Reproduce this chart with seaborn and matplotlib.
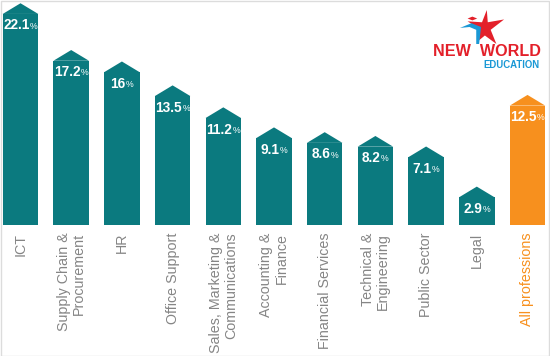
import matplotlib
matplotlib.use("Agg")
import matplotlib.pyplot as plt
import seaborn as sns
import pandas as pd
from matplotlib.patches import Polygon, Rectangle

categories = ["ICT", "Supply Chain &\nProcurement", "HR", "Office Support",
              "Sales, Marketing &\nCommunications", "Accounting &\nFinance",
              "Financial Services", "Technical &\nEngineering", "Public Sector",
              "Legal", "All professions"]
values = [22.1, 17.2, 16, 13.5, 11.2, 9.1, 8.6, 8.2, 7.1, 2.9, 12.5]
value_labels = ["22.1", "17.2", "16", "13.5", "11.2", "9.1", "8.6", "8.2", "7.1", "2.9", "12.5"]

TEAL = "#0b7a7f"
ORANGE = "#f7901e"
colors = [TEAL] * (len(categories) - 1) + [ORANGE]

sns.set_theme(style="white")
plt.rcParams['font.family'] = ['Liberation Sans', 'DejaVu Sans']

df = pd.DataFrame({"cat": categories, "val": values})

fig = plt.figure(figsize=(5.5, 3.56), dpi=100)
ax = fig.add_axes([0, 131 / 356, 1, 225 / 356])
sns.barplot(data=df, x="cat", y="val", hue="cat", palette=colors, legend=False,
            width=0.70, saturation=1, ax=ax)
ax.set_ylim(0, 225 / 9.55)
ax.set_xlim(-20.5 / 50.7, (550 - 20.5) / 50.7)

fig.canvas.draw()
renderer = fig.canvas.get_renderer()
PX2PT = 72 / fig.dpi
NUM_FS = 9.8
PCT_FS = 6.3

cap = 1.12
for patch, lab, col in zip(list(ax.patches), value_labels, colors):
    x0 = patch.get_x(); w = patch.get_width(); h = patch.get_height()
    patch.set_edgecolor("none")
    tri = Polygon([[x0, h], [x0 + w / 2, h + cap], [x0 + w, h]], closed=True,
                  facecolor=col, edgecolor="none")
    ax.add_patch(tri)
    tn = ax.text(0, 0, lab, fontsize=NUM_FS, fontweight="bold")
    tp = ax.text(0, 0, "%", fontsize=PCT_FS)
    wn = tn.get_window_extent(renderer).width
    wp = tp.get_window_extent(renderer).width
    tn.remove(); tp.remove()
    gap = 0.5
    total = wn + gap + wp
    right_n = -total / 2 + wn
    ax.annotate(lab, xy=(x0 + w / 2, h), xytext=(right_n * PX2PT, -8.3),
                textcoords="offset points", ha="right", va="center",
                color="white", fontsize=NUM_FS, fontweight="bold")
    ax.annotate("%", xy=(x0 + w / 2, h), xytext=((right_n + gap) * PX2PT, -8.8),
                textcoords="offset points", ha="left", va="center",
                color="white", fontsize=PCT_FS)

ax.set_xlabel("")
ax.set_ylabel("")
ax.set_yticks([])
ax.tick_params(axis="x", length=0, pad=5.5)
ax.set_xticks(range(len(categories)))
ax.set_xticklabels(categories, rotation=90, ha="center", va="top",
                   fontsize=10.3, color="#858585")
for lbl in ax.get_xticklabels():
    lbl.set_multialignment("right")
    lbl.set_linespacing(1.1)
ax.get_xticklabels()[-1].set_color(ORANGE)
for s in ax.spines.values():
    s.set_visible(False)
ax.patch.set_alpha(0)

# logo
fig.text(487 / 550, 1 - 51 / 356, "NEW  WORLD", ha="center", va="center",
         color="#e3202a", fontsize=11.6, fontweight="bold")
fig.text(511 / 550, 1 - 64.5 / 356, "EDUCATION", ha="center", va="center",
         color="#1a98d5", fontsize=6.9, fontweight="bold")
lax = fig.add_axes([458 / 550, 1 - 44 / 356, 48 / 550, 34 / 356])
lax.set_xlim(0, 50); lax.set_ylim(0, 36); lax.axis("off")
lax.add_patch(Polygon([[30, 36], [31, 23], [48, 26], [34, 15], [40, 0], [28, 9],
                       [22, 4], [22, 16], [10, 24], [25, 23]], closed=True,
                      facecolor="#e3202a", edgecolor="none"))
lax.add_patch(Polygon([[2, 17], [14, 22], [24, 18], [22, 0], [19, 0], [19, 15], [12, 18]],
                      closed=True, facecolor="#1a98d5", edgecolor="none"))
lax.add_patch(Polygon([[10, 27], [15, 29], [20, 27], [15, 25]], closed=True,
                      facecolor="#e3202a", edgecolor="none"))

fig.patches.append(Rectangle((0.5 / 550, 0.5 / 356), 548 / 550, 354.5 / 356,
                             transform=fig.transFigure, fill=False,
                             edgecolor="#dcdcdc", linewidth=1))
fig.savefig("out.png", dpi=100, facecolor="white")
